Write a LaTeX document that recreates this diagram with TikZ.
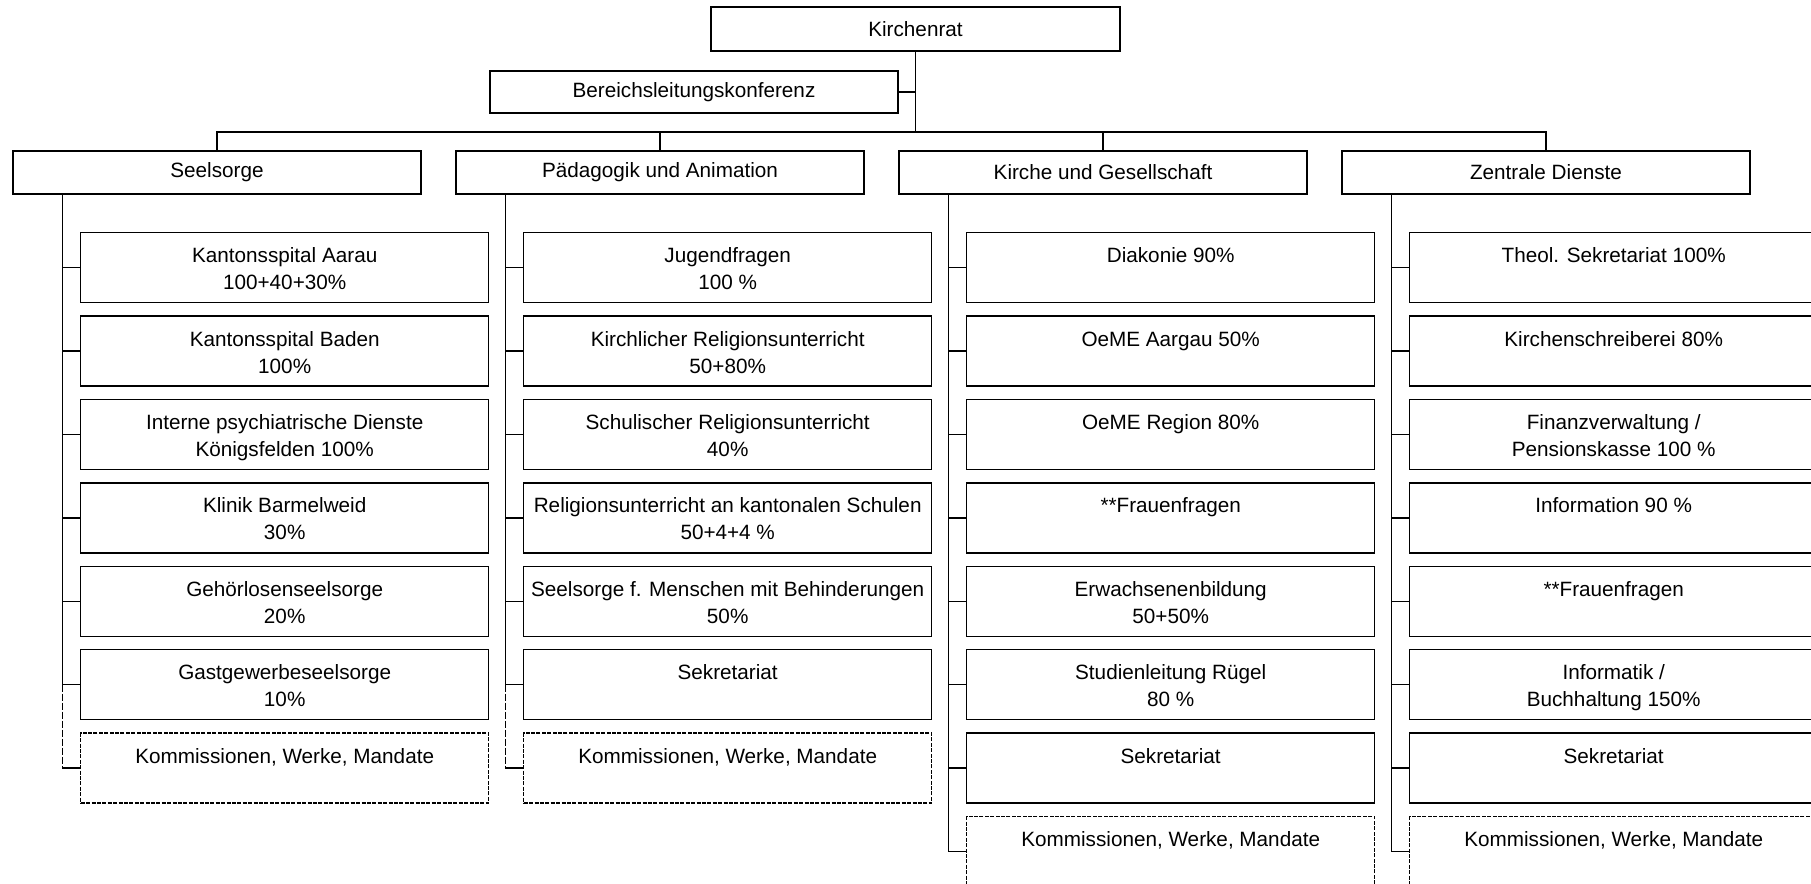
\documentclass[tikz,border=0pt]{standalone}
\usepackage{fontspec}
\setmainfont{Liberation Sans}
\usepackage{tikz}

\newcommand{\boxtext}[1]{\parbox[t][35pt][t]{204pt}{\centering\rule{0pt}{15pt}#1}}

\begin{document}
\begin{tikzpicture}[
    x=0.5pt, y=-0.5pt,
    font=\fontsize{10.35pt}{13.5pt}\selectfont,
    line width=0.7pt,
    topbox/.style={shape=rectangle, draw=black, minimum width=204pt, minimum height=21.5pt, inner sep=0pt},
    subbox/.style={shape=rectangle, draw=black, anchor=north west, inner sep=0pt},
    openbox/.style={subbox, dash pattern=on 2pt off 0.7pt},
    trunk/.style={dash pattern=on 3.5pt off 1pt},
]
\useasboundingbox (0,0) rectangle (1811,884);
\clip (0,0) rectangle (1811,884);

\node[topbox, minimum width=204.5pt, minimum height=22pt] (kr) at (915.5,29) {Kirchenrat};
\node[topbox, minimum height=21pt] (blk) at (694,92) {Bereichsleitungskonferenz};
\node[topbox] (seel) at (217,172.5) {Seelsorge};
\node[topbox] (paed) at (660,172.5) {Pädagogik und Animation};
\node[topbox] (kug) at (1103,172.5) {Kirche und Gesellschaft};
\node[topbox] (zd) at (1546,172.5) {Zentrale Dienste};

\coordinate (bus) at (915.5,132);
\draw (kr) -- (bus);
\draw (blk) -- (blk -| kr);
\draw (seel) |- (bus) -| (zd);
\draw (paed) -- (paed |- bus);
\draw (kug) -- (kug |- bus);

% Seelsorge
\foreach \txt [count=\i] in {{Kantonsspital Aarau\\100+40+30\%}, {Kantonsspital Baden\\100\%},
    {Interne psychiatrische Dienste\\Königsfelden 100\%}, {Klinik Barmelweid\\30\%},
    {Gehörlosenseelsorge\\20\%}, {Gastgewerbeseelsorge\\10\%}}
  \node[subbox] (seel\i) at (80,{232+83.4*(\i-1)}) {\boxtext{\txt}};
\node[openbox] (seel7) at (80,732.4) {\boxtext{Kommissionen, Werke, Mandate}};
\path (seel.south west) ++(50,0) coordinate (seeltop);
\foreach \i in {1,...,6}
  \draw (seeltop) |- (seel\i.west);
\draw[trunk] (seeltop |- seel6.west) -- (seeltop |- seel7.west);
\draw (seeltop |- seel7.west) -- (seel7.west);

% Paedagogik
\foreach \txt [count=\i] in {{Jugendfragen\\100 \%}, {Kirchlicher Religionsunterricht\\50+80\%},
    {Schulischer Religionsunterricht\\40\%}, {Religionsunterricht an kantonalen Schulen\\50+4+4 \%},
    {Seelsorge f. Menschen mit Behinderungen\\50\%}, {Sekretariat}}
  \node[subbox] (paed\i) at (523,{232+83.4*(\i-1)}) {\boxtext{\txt}};
\node[openbox] (paed7) at (523,732.4) {\boxtext{Kommissionen, Werke, Mandate}};
\path (paed.south west) ++(50,0) coordinate (paedtop);
\foreach \i in {1,...,6}
  \draw (paedtop) |- (paed\i.west);
\draw[trunk] (paedtop |- paed6.west) -- (paedtop |- paed7.west);
\draw (paedtop |- paed7.west) -- (paed7.west);

% Kirche und Gesellschaft
\foreach \txt [count=\i] in {{Diakonie 90\%}, {OeME Aargau 50\%}, {OeME Region 80\%},
    {**Frauenfragen}, {Erwachsenenbildung\\50+50\%}, {Studienleitung Rügel\\80 \%}, {Sekretariat}}
  \node[subbox] (kug\i) at (966,{232+83.4*(\i-1)}) {\boxtext{\txt}};
\node[openbox] (kug8) at (966,815.8) {\boxtext{Kommissionen, Werke, Mandate}};
\path (kug.south west) ++(50,0) coordinate (kugtop);
\foreach \i in {1,...,8}
  \draw (kugtop) |- (kug\i.west);

% Zentrale Dienste
\foreach \txt [count=\i] in {{Theol. Sekretariat 100\%}, {Kirchenschreiberei 80\%},
    {Finanzverwaltung /\\Pensionskasse 100 \%}, {Information 90 \%}, {**Frauenfragen},
    {Informatik /\\Buchhaltung 150\%}, {Sekretariat}}
  \node[subbox] (zd\i) at (1409,{232+83.4*(\i-1)}) {\boxtext{\txt}};
\node[openbox] (zd8) at (1409,815.8) {\boxtext{Kommissionen, Werke, Mandate}};
\path (zd.south west) ++(50,0) coordinate (zdtop);
\foreach \i in {1,...,8}
  \draw (zdtop) |- (zd\i.west);
\end{tikzpicture}
\end{document}
